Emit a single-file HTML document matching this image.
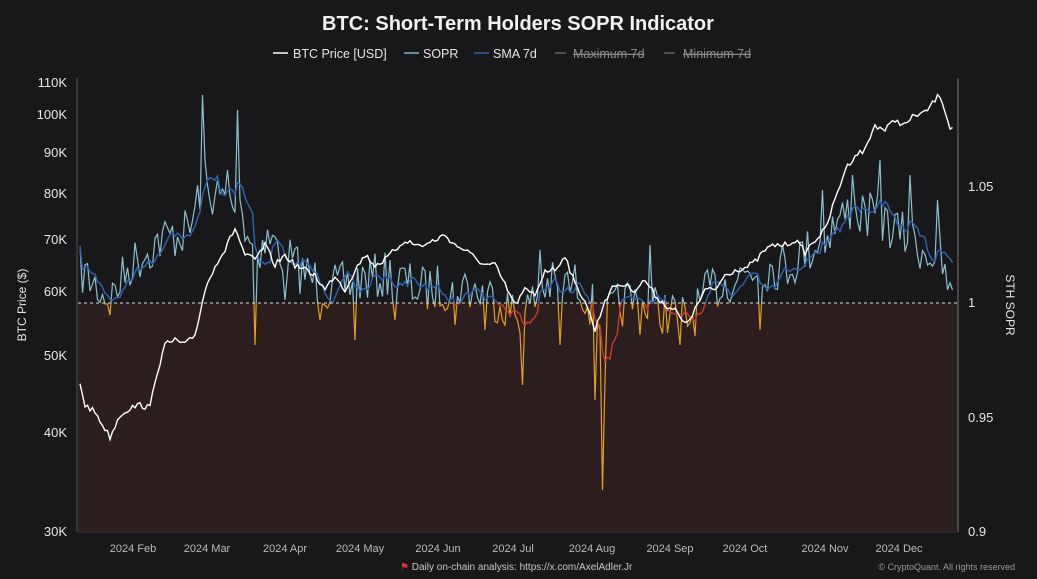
<!DOCTYPE html>
<html><head><meta charset="utf-8"><style>
body{margin:0;background:#18181b;width:1037px;height:579px;overflow:hidden;font-family:"Liberation Sans",sans-serif}
svg{display:block}
text{font-family:"Liberation Sans",sans-serif}
</style></head><body>
<svg id="s" width="1037" height="579" viewBox="0 0 1037 579">
<rect width="1037" height="579" fill="#18181b"/>
<text x="518" y="30" text-anchor="middle" fill="#f2f2f2" font-size="20" font-weight="bold">BTC: Short-Term Holders SOPR Indicator</text>
<g font-size="12.5" fill="#e6e6e6">
<line x1="273" y1="53" x2="288" y2="53" stroke="#fff" stroke-width="1.5"/><text x="293" y="58">BTC Price [USD]</text>
<line x1="404" y1="53" x2="419" y2="53" stroke="#7fb3c4" stroke-width="1.5"/><text x="423" y="58">SOPR</text>
<line x1="474" y1="53" x2="489" y2="53" stroke="#2f5fa8" stroke-width="1.5"/><text x="493" y="58">SMA 7d</text>
<line x1="555" y1="53" x2="566" y2="53" stroke="#888" stroke-width="1"/><text x="573" y="58" fill="#8a8a8a" text-decoration="line-through">Maximum 7d</text>
<line x1="664" y1="53" x2="675" y2="53" stroke="#888" stroke-width="1"/><text x="683" y="58" fill="#8a8a8a" text-decoration="line-through">Minimum 7d</text>
</g>
<rect x="78" y="303" width="879" height="229" fill="#2c1d1e"/>
<line x1="78" y1="532" x2="957" y2="532" stroke="#333"/>
<line x1="77" y1="78" x2="77" y2="532" stroke="#555"/>
<line x1="958" y1="78" x2="958" y2="532" stroke="#777"/>
<g font-size="13" fill="#e6e6e6" text-anchor="end">
<text x="67" y="87">110K</text><text x="67" y="119">100K</text><text x="67" y="157">90K</text><text x="67" y="198">80K</text><text x="67" y="244">70K</text><text x="67" y="296">60K</text><text x="67" y="360">50K</text><text x="67" y="437">40K</text><text x="67" y="536">30K</text>
</g>
<g font-size="13" fill="#e6e6e6">
<text x="968" y="191">1.05</text><text x="968" y="307">1</text><text x="968" y="422">0.95</text><text x="968" y="536">0.9</text>
</g>
<text transform="translate(26,305) rotate(-90)" text-anchor="middle" font-size="12" fill="#e6e6e6">BTC Price ($)</text>
<text transform="translate(1006,305) rotate(90)" text-anchor="middle" font-size="12" fill="#e6e6e6">STH SOPR</text>
<g font-size="11" fill="#bbb" text-anchor="middle">
<text x="133" y="552">2024 Feb</text><text x="207" y="552">2024 Mar</text><text x="285" y="552">2024 Apr</text><text x="360" y="552">2024 May</text><text x="438" y="552">2024 Jun</text><text x="513" y="552">2024 Jul</text><text x="592" y="552">2024 Aug</text><text x="670" y="552">2024 Sep</text><text x="745" y="552">2024 Oct</text><text x="825" y="552">2024 Nov</text><text x="899" y="552">2024 Dec</text>
</g>
<text x="400" y="570" font-size="10" fill="#c8c8c8"><tspan fill="#d33">⚑</tspan> Daily on-chain analysis: https://x.com/AxelAdler.Jr</text>
<text x="1015" y="570" font-size="9" fill="#999" text-anchor="end">© CryptoQuant. All rights reserved</text>
<defs>
<clipPath id="up"><rect x="0" y="0" width="1037" height="303"/></clipPath>
<clipPath id="dn"><rect x="0" y="303" width="1037" height="300"/></clipPath>
</defs>
<g id="g"></g>
<line x1="78" y1="303" x2="957" y2="303" stroke="#ddd" stroke-dasharray="3,3" stroke-width="1"/>
</svg>
<script>
var seed=7;function r(){seed=(seed*16807)%2147483647;return seed/2147483647;}
function interp(pts,x){for(var i=0;i<pts.length-1;i++){if(x>=pts[i][0]&&x<=pts[i+1][0]){var t=(x-pts[i][0])/(pts[i+1][0]-pts[i][0]);return pts[i][1]+t*(pts[i+1][1]-pts[i][1]);}}return pts[pts.length-1][1];}
var price=[[80,383],[85,405],[95,412],[110,437],[120,415],[130,408],[140,405],[150,408],[155,380],[165,345],[175,340],[185,345],[195,335],[205,290],[215,265],[225,250],[235,228],[245,255],[255,260],[265,245],[275,265],[285,255],[295,265],[305,270],[315,275],[325,290],[335,275],[345,290],[355,270],[365,255],[375,265],[385,260],[395,250],[405,240],[415,245],[425,245],[435,240],[445,235],[455,245],[465,250],[475,258],[485,265],[495,265],[505,285],[515,305],[525,290],[535,295],[545,270],[555,270],[565,255],[575,285],[585,300],[595,330],[605,300],[615,285],[625,285],[635,290],[645,280],[655,295],[665,305],[675,310],[685,325],[695,310],[705,290],[715,290],[725,275],[735,270],[745,268],[755,262],[765,250],[775,245],[785,245],[795,240],[805,252],[815,240],[825,230],[835,200],[845,170],[855,155],[865,150],[875,125],[885,130],[895,120],[905,125],[915,115],[925,113],[935,100],[940,95],[945,110],[950,128],[953,125]];
var base=[[80,270],[110,300],[130,265],[160,240],[190,230],[200,190],[215,195],[240,210],[255,250],[270,240],[300,270],[330,290],[360,280],[390,275],[420,290],[460,285],[500,300],[520,320],[545,285],[580,285],[600,320],[630,300],[660,310],[690,320],[710,290],[750,270],[790,265],[820,240],[850,210],[880,220],[910,240],[940,260],[953,305]];
var spikes={202:95,205:160,237:110,240:200,227:170,255:345,285:300,320:320,355:340,395:320,455:325,485:330,523:385,540:250,560:345,595:400,602:490,606:380,640:335,650:245,680:345,760:330,823:190,853:175,880:160,909:175,938:200};
var sp=[],sm=[],pp=[];
for(var x=80;x<=953;x+=2.5){var b=interp(base,x);var v=b+(r()-0.5)*48;for(var k in spikes){if(Math.abs(k-x)<1.3)v=spikes[k];}sp.push([x,v]);}
for(var i=0;i<sp.length;i++){var s=0,n=0;for(var j=Math.max(0,i-6);j<=i;j++){s+=sp[j][1];n++;}sm.push([sp[i][0],s/n]);}
for(var x=80;x<=953;x+=2.5){pp.push([x,interp(price,x)+(r()-0.5)*6]);}
function d(a){return 'M'+a.map(function(p){return p[0].toFixed(1)+','+p[1].toFixed(1)}).join('L');}
var g=document.getElementById('g');
g.innerHTML='<path d="'+d(sp)+'" fill="none" stroke="#8cc0cf" stroke-width="1.2" clip-path="url(#up)"/>'+
'<path d="'+d(sp)+'" fill="none" stroke="#e0a020" stroke-width="1.2" clip-path="url(#dn)"/>'+
'<path d="'+d(sm)+'" fill="none" stroke="#2f5fa8" stroke-width="1.5" clip-path="url(#up)"/>'+
'<path d="'+d(sm)+'" fill="none" stroke="#c0392b" stroke-width="1.5" clip-path="url(#dn)"/>'+
'<path d="'+d(pp)+'" fill="none" stroke="#ffffff" stroke-width="1.4"/>';
</script>
</body></html>
